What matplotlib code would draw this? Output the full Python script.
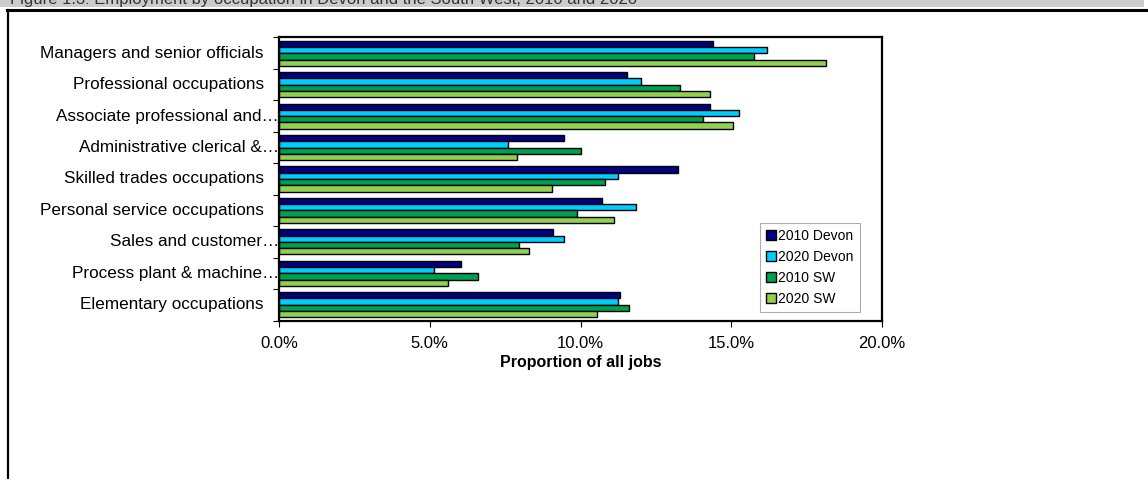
import matplotlib.pyplot as plt
import numpy as np
from matplotlib.lines import Line2D
from matplotlib.patches import Rectangle
import matplotlib.transforms as mtransforms

plt.rcParams['font.family'] = ['Liberation Sans', 'DejaVu Sans']

# occupation groups, top to bottom
categories = [
    "Managers and senior officials",
    "Professional occupations",
    "Associate professional and\u2026",
    "Administrative clerical &\u2026",
    "Skilled trades occupations",
    "Personal service occupations",
    "Sales and customer\u2026",
    "Process plant & machine\u2026",
    "Elementary occupations",
]
truncated = [False, False, True, True, False, False, True, True, False]

series_names = ["2010 Devon", "2020 Devon", "2010 SW", "2020 SW"]
devon_2010 = [14.4, 11.55, 14.3, 9.45, 13.25, 10.7, 9.1, 6.05, 11.3]
devon_2020 = [16.2, 12.0, 15.25, 7.6, 11.25, 11.85, 9.45, 5.15, 11.25]
sw_2010 = [15.75, 13.3, 14.05, 10.0, 10.8, 9.9, 7.95, 6.6, 11.6]
sw_2020 = [18.15, 14.3, 15.05, 7.9, 9.05, 11.1, 8.3, 5.6, 10.55]
colors = ["#000080", "#00CCFF", "#00A050", "#92D050"]
xticks = [0, 5, 10, 15, 20]

W, H = 1148, 479
fig = plt.figure(figsize=(W / 100, H / 100), dpi=100)

# grey caption strip at the top; the caption sits mostly above the page edge
band = fig.add_axes([0, 1 - 7 / H, 1144 / W, 7 / H])
band.set_xlim(0, 1)
band.set_ylim(0, 1)
band.axis('off')
band.add_patch(Rectangle((0, 0), 1, 1, color="#CCCCCC", transform=band.transAxes))
band.text(10 / 1144, 0.45, "Figure 1.3: Employment by occupation in Devon and the South West, 2010 and 2020",
          fontsize=12, va='baseline', ha='left', color='#333333', clip_on=True)

# outer frame lines
fig.add_artist(Line2D([7 / W, 1], [1 - 9.5 / H, 1 - 9.5 / H], color='black', lw=2.2,
                      transform=fig.transFigure))
fig.add_artist(Line2D([7.5 / W, 7.5 / W], [0, 1 - 9.5 / H], color='black', lw=1.6,
                      transform=fig.transFigure))

x0, x1 = 279, 882
y0, y1 = 37.5, 320.5
ax = fig.add_axes([x0 / W, 1 - y1 / H, (x1 - x0) / W, (y1 - y0) / H])

n = len(categories)
pos = np.arange(n)[::-1]
bar_h = 0.2
data = [devon_2010, devon_2020, sw_2010, sw_2020]
for i, (vals, col, name) in enumerate(zip(data, colors, series_names)):
    offs = (1.5 - i) * bar_h
    ax.barh(pos + offs, vals, height=bar_h, color=col, edgecolor='black',
            linewidth=1.0, label=name)

ax.set_xlim(0, 20)
ax.set_ylim(-0.5, n - 0.5)
ax.set_xticks(xticks)
ax.set_xticklabels([f"{v:.1f}%" for v in xticks], fontsize=12)
ax.tick_params(axis='x', direction='out', length=4, width=0.8, pad=7)
ax.set_yticks(np.arange(n + 1) - 0.5)
ax.set_yticklabels([])
ax.tick_params(axis='y', direction='out', length=4, width=0.8)
for sp in ax.spines.values():
    sp.set_linewidth(1.6)

# category labels
for p, lab, tr in zip(pos, categories, truncated):
    dx = 0 if tr else -15
    off = mtransforms.offset_copy(ax.get_yaxis_transform(), fig=fig, x=dx * 0.72, y=0,
                                  units='points')
    ax.text(0, p, lab, transform=off, ha='right', va='center', fontsize=12.3)

ax.set_xlabel("Proportion of all jobs", fontsize=11.5, fontweight='bold', labelpad=3)

leg = ax.legend(loc='lower right', bbox_to_anchor=((860 - x0) / (x1 - x0), (y1 - 312) / (y1 - y0)),
                fontsize=10, frameon=True, fancybox=False, edgecolor='#999999',
                handlelength=0.7, handleheight=0.7, handletextpad=0.2,
                labelspacing=0.5, borderpad=0.45, borderaxespad=0)
leg.get_frame().set_linewidth(0.8)

fig.savefig("out.png", dpi=100)
